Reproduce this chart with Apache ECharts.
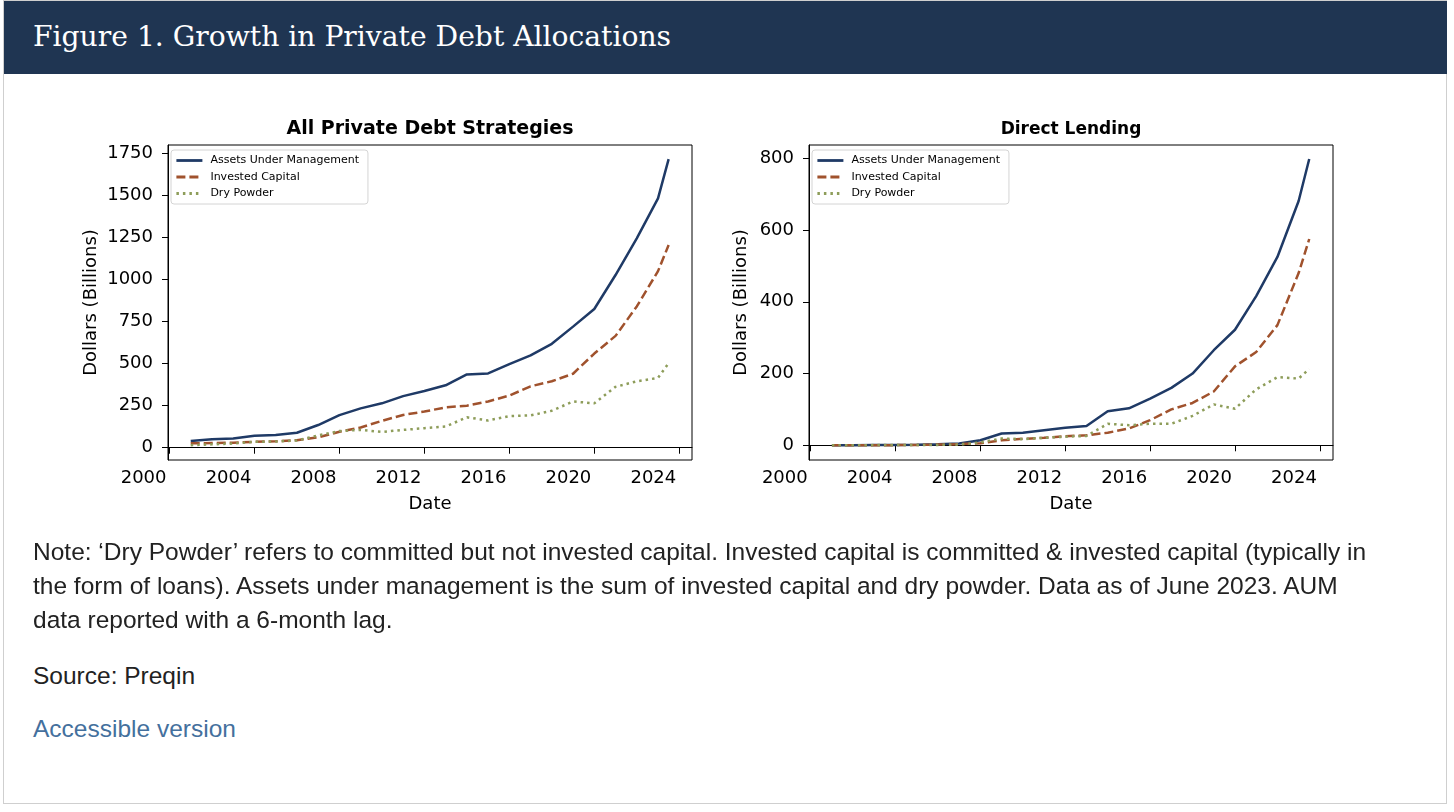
<!DOCTYPE html>
<html lang="en">
<head>
    <meta charset="utf-8">
    <title>Figure 1. Growth in Private Debt Allocations</title>
    <script src="https://cdn.jsdelivr.net/npm/echarts/dist/echarts.min.js"></script>
    <style>
        html, body { margin: 0; padding: 0; background: #fff; }
        body { width: 1454px; height: 812px; position: relative; overflow: hidden; }
        #frame { position: absolute; left: 3px; top: 0; width: 1444px; height: 804px; border: 1px solid #cfcfcf; box-sizing: border-box; }
        #head { position: absolute; left: 4px; top: 1px; width: 1443px; height: 73px; background: #1f3552; }
        #head span { position: absolute; left: 29px; top: 19px; color: #fff; font-family: "DejaVu Serif", serif; font-size: 28.2px; white-space: nowrap; }
        #main { position: absolute; left: 0; top: 0; width: 1454px; height: 540px; }
        .txt { position: absolute; left: 33px; font-family: "Liberation Sans", Arial, sans-serif; font-size: 24.5px; color: #222; line-height: 34px; white-space: nowrap; }
        .link { color: #44709d; }
    </style>
</head>
<body>
    <div id="frame"></div>
    <div id="head"><span>Figure 1. Growth in Private Debt Allocations</span></div>
    <div id="main"></div>
    <div class="txt" style="top:535px;">Note: ‘Dry Powder’ refers to committed but not invested capital. Invested capital is committed &amp; invested capital (typically in<br>the form of loans). Assets under management is the sum of invested capital and dry powder. Data as of June 2023. AUM<br>data reported with a 6-month lag.</div>
    <div class="txt" style="top:659px;">Source: Preqin</div>
    <div class="txt link" style="top:712px;">Accessible version</div>

<script>
    // 日期（年末，最后一个点为 2023 年 6 月）
    var dates = [2001, 2002, 2003, 2004, 2005, 2006, 2007, 2008, 2009, 2010, 2011, 2012,
        2013, 2014, 2015, 2016, 2017, 2018, 2019, 2020, 2021, 2022, 2023, 2023.5];

    // All Private Debt Strategies
    var aumAll = [40, 50, 55, 71, 75, 89, 135, 194, 234, 264, 307, 337, 371, 436, 442, 497, 549, 618, 720, 825, 1027, 1245, 1483, 1716];
    var icAll = [26, 28, 30, 35, 38, 45, 62, 95, 120, 160, 195, 215, 240, 250, 275, 310, 365, 395, 440, 560, 665, 840, 1050, 1205];
    var dpAll = [15, 20, 25, 35, 37, 43, 73, 99, 106, 94, 106, 116, 126, 181, 162, 188, 192, 220, 275, 264, 362, 395, 415, 503];

    // Direct Lending
    var aumDL = [0, 0, 0.5, 1, 1.5, 3, 5, 14, 33, 35, 42, 49, 54, 95, 103, 130, 160, 200, 265, 322, 416, 525, 681, 798];
    var icDL = [0, 0, 0, 0.5, 1, 2, 3, 6, 14, 18, 21, 25, 28, 35, 47, 70, 100, 118, 150, 220, 260, 335, 480, 575];
    var dpDL = [0, 0, 0.5, 0.5, 0.5, 1, 2, 8, 19, 17, 21, 24, 26, 60, 56, 60, 60, 82, 114, 102, 156, 190, 186, 213];

    var names = ['Assets Under Management', 'Invested Capital', 'Dry Powder'];
    var xTicks = [2000, 2004, 2008, 2012, 2016, 2020, 2024];
    var yTicksAll = [0, 250, 500, 750, 1000, 1250, 1500, 1750];
    var yTicksDL = [0, 200, 400, 600, 800];

    var colors = ['#1f3a66', '#a0522d', '#8e9d5a'];
    var dashes = ['solid', [9, 4], [2.5, 4]];
    var font = 'DejaVu Sans';

    function pairs(vals) {
        var out = [];
        for (var i = 0; i < dates.length; i++) {
            out.push([dates[i], vals[i]]);
        }
        return out;
    }

    // 不要千位分隔符
    function plain(v) {
        return String(v);
    }

    function xAxis(idx, min, max) {
        return {
            type: 'value', gridIndex: idx, min: min, max: max,
            name: 'Date', nameLocation: 'middle', nameGap: 35,
            nameTextStyle: { fontFamily: font, fontSize: 18, color: '#000' },
            axisLine: { show: true, lineStyle: { color: '#000', width: 1 } },
            axisTick: { show: true, length: 6, lineStyle: { color: '#000' }, customValues: xTicks },
            axisLabel: { fontFamily: font, fontSize: 18, color: '#000', margin: 9, align: 'right', padding: [0, 3, 0, 0], customValues: xTicks, formatter: plain },
            splitLine: { show: false }
        };
    }

    function yAxis(idx, min, max, ticks, gap) {
        return {
            type: 'value', gridIndex: idx, min: min, max: max,
            name: 'Dollars (Billions)', nameLocation: 'middle', nameGap: gap,
            nameTextStyle: { fontFamily: font, fontSize: 18, color: '#000' },
            axisLine: { show: true, lineStyle: { color: '#000', width: 1 } },
            axisTick: { show: true, length: 6, lineStyle: { color: '#000' }, customValues: ticks },
            axisLabel: { fontFamily: font, fontSize: 18, color: '#000', margin: 15, customValues: ticks, formatter: plain },
            splitLine: { show: false }
        };
    }

    function lines(idx, list) {
        var s = [];
        for (var i = 0; i < list.length; i++) {
            s.push({
                name: names[i], type: 'line', xAxisIndex: idx, yAxisIndex: idx,
                data: pairs(list[i]), symbol: 'none', smooth: false, animation: false,
                lineStyle: { color: colors[i], width: 2.5, type: dashes[i], cap: 'butt' },
                itemStyle: { color: colors[i] }
            });
        }
        return s;
    }

    function legend(left) {
        return {
            left: left, top: 150, orient: 'vertical', data: names,
            itemWidth: 26, itemHeight: 12, itemGap: 5.5,
            padding: [5, 9, 5, 4],
            itemStyle: { opacity: 0 },
            lineStyle: { width: 2.8 },
            backgroundColor: 'rgba(255,255,255,0.85)', borderColor: '#d4d4d4', borderWidth: 1, borderRadius: 3,
            textStyle: { fontFamily: font, fontSize: 11, color: '#000', padding: [0, 0, 0, 3] }
        };
    }

    var myChart = echarts.init(document.getElementById('main'));
    var option = {
        animation: false,
        title: [
            { text: 'All Private Debt Strategies', left: 430, top: 120, textAlign: 'center', padding: 0,
              textStyle: { fontFamily: font, fontSize: 19, fontWeight: 'bold', color: '#000' } },
            { text: 'Direct Lending', left: 1071, top: 121, textAlign: 'center', padding: 0,
              textStyle: { fontFamily: font, fontSize: 17, fontWeight: 'bold', color: '#000' } }
        ],
        legend: [legend(171), legend(812)],
        grid: [
            { left: 168, top: 145, width: 524, height: 315, show: true, borderColor: '#000', borderWidth: 1 },
            { left: 809, top: 145, width: 524, height: 315, show: true, borderColor: '#000', borderWidth: 1 }
        ],
        xAxis: [xAxis(0, 1999.93, 2024.6), xAxis(1, 1999.92, 2024.62)],
        yAxis: [yAxis(0, -73, 1800, yTicksAll, 68), yAxis(1, -41, 837, yTicksDL, 59)],
        series: lines(0, [aumAll, icAll, dpAll]).concat(lines(1, [aumDL, icDL, dpDL]))
    };
    myChart.setOption(option);
</script>
</body>
</html>
